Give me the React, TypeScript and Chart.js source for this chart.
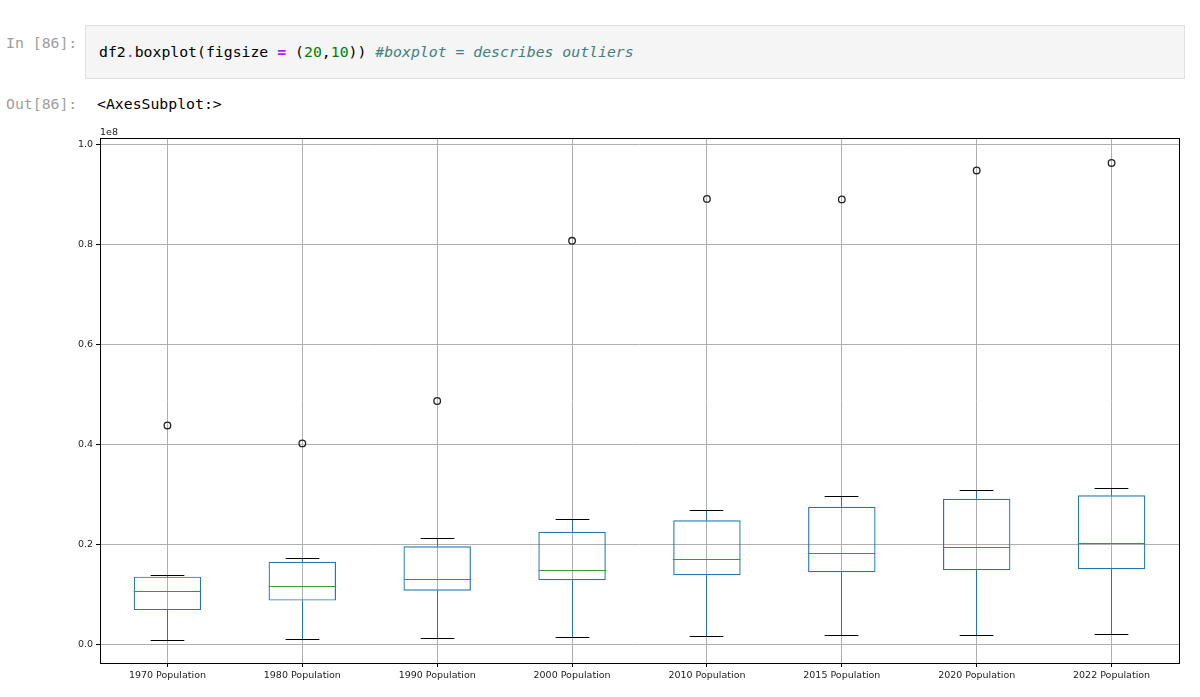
import React, { useEffect, useRef } from "react";
import { Chart, registerables } from "chart.js";

Chart.register(...registerables);

// Values in units of 1e8
const categories = [
  "1970 Population",
  "1980 Population",
  "1990 Population",
  "2000 Population",
  "2010 Population",
  "2015 Population",
  "2020 Population",
  "2022 Population",
];
const whiskerLow = [0.008, 0.010, 0.011, 0.013, 0.015, 0.018, 0.018, 0.020];
const q1 = [0.068, 0.087, 0.107, 0.128, 0.138, 0.144, 0.148, 0.150];
const median = [0.105, 0.116, 0.130, 0.148, 0.169, 0.182, 0.194, 0.202];
const q3 = [0.135, 0.165, 0.196, 0.225, 0.248, 0.275, 0.291, 0.298];
const whiskerHigh = [0.137, 0.172, 0.211, 0.250, 0.268, 0.295, 0.308, 0.312];
const outliers = [0.438, 0.402, 0.487, 0.808, 0.892, 0.891, 0.949, 0.964];
const yTicks = [0.0, 0.2, 0.4, 0.6, 0.8, 1.0];
const yMin = -0.038;
const yMax = 1.014;

const BLUE = "#1f77b4";
const GREEN = "#2ca02c";
const FONT = "'DejaVu Sans', sans-serif";

const align = (p: number) => Math.round(p - 0.5) + 0.5;

const boxPlugin = {
  id: "boxParts",
  afterDatasetsDraw(chart: any) {
    const ctx = chart.ctx;
    const x = chart.scales.x;
    const y = chart.scales.y;
    const catW = x.getPixelForValue(1) - x.getPixelForValue(0);
    const boxHalf = catW * 0.25;
    const capHalf = catW * 0.125;
    ctx.save();
    ctx.lineWidth = 1;
    categories.forEach((_, i) => {
      const cx = align(x.getPixelForValue(i));
      const yl = align(y.getPixelForValue(whiskerLow[i]));
      const y1 = y.getPixelForValue(q1[i]);
      const y3 = y.getPixelForValue(q3[i]);
      const yh = align(y.getPixelForValue(whiskerHigh[i]));
      const ym = align(y.getPixelForValue(median[i]));
      // whiskers
      ctx.strokeStyle = BLUE;
      ctx.beginPath();
      ctx.moveTo(cx, y1);
      ctx.lineTo(cx, yl);
      ctx.moveTo(cx, y3);
      ctx.lineTo(cx, yh);
      ctx.stroke();
      // caps
      ctx.strokeStyle = "#000";
      ctx.beginPath();
      ctx.moveTo(cx - capHalf, yl);
      ctx.lineTo(cx + capHalf, yl);
      ctx.moveTo(cx - capHalf, yh);
      ctx.lineTo(cx + capHalf, yh);
      ctx.stroke();
      // median
      ctx.strokeStyle = GREEN;
      ctx.beginPath();
      ctx.moveTo(cx - boxHalf, ym);
      ctx.lineTo(cx + boxHalf, ym);
      ctx.stroke();
    });
    ctx.restore();
  },
  afterDraw(chart: any) {
    const ctx = chart.ctx;
    const a = chart.chartArea;
    ctx.save();
    ctx.strokeStyle = "#000";
    ctx.lineWidth = 1;
    ctx.strokeRect(
      Math.round(a.left) + 0.5,
      Math.round(a.top) + 0.5,
      Math.round(a.right - a.left),
      Math.round(a.bottom - a.top)
    );
    ctx.fillStyle = "#222";
    ctx.font = `9.5px ${FONT}`;
    ctx.textAlign = "left";
    ctx.textBaseline = "bottom";
    ctx.fillText("1e8", a.left, a.top - 1);
    ctx.restore();
  },
};

function BoxChart() {
  const ref = useRef<HTMLCanvasElement>(null);
  useEffect(() => {
    if (!ref.current) return;
    const chart = new Chart(ref.current, {
      type: "bar",
      data: {
        labels: categories,
        datasets: [
          {
            type: "bar",
            data: categories.map((_, i) => [q1[i], q3[i]]) as any,
            backgroundColor: "rgba(0,0,0,0)",
            borderColor: BLUE,
            borderWidth: 1.2,
            borderSkipped: false,
            barPercentage: 0.5,
            categoryPercentage: 1,
          } as any,
          {
            type: "line",
            data: outliers,
            showLine: false,
            pointRadius: 3.3,
            pointBorderWidth: 1.3,
            pointBorderColor: "#222",
            pointBackgroundColor: "rgba(0,0,0,0)",
          } as any,
        ],
      },
      options: {
        animation: false,
        responsive: false,
        maintainAspectRatio: false,
        layout: { padding: { top: 18, right: 21, left: 0, bottom: 0 } },
        plugins: { legend: { display: false }, tooltip: { enabled: false } },
        scales: {
          x: {
            type: "category",
            offset: true,
            grid: {
              offset: false,
              color: "#b0b0b0",
              lineWidth: 1,
              tickColor: "#000",
              tickLength: 4,
            },
            border: { display: false },
            ticks: {
              color: "#222",
              font: { family: FONT, size: 9.5 },
              padding: 3,
              maxRotation: 0,
              autoSkip: false,
            },
            afterFit(scale: any) {
              scale.height = 34;
            },
          },
          y: {
            type: "linear",
            min: yMin,
            max: yMax,
            grid: {
              color: "#b0b0b0",
              lineWidth: 1,
              tickColor: "#000",
              tickLength: 4,
            },
            border: { display: false },
            ticks: {
              color: "#222",
              font: { family: FONT, size: 9.5 },
              padding: 3,
              callback: (v: any) => Number(v).toFixed(1),
            },
            afterBuildTicks(scale: any) {
              scale.ticks = yTicks.map((v) => ({ value: v }));
            },
            afterFit(scale: any) {
              scale.width = 100;
            },
          },
        },
      } as any,
      plugins: [boxPlugin],
    });
    return () => chart.destroy();
  }, []);
  return (
    <canvas
      ref={ref}
      width={1200}
      height={577}
      style={{ position: "absolute", left: 0, top: 120, width: 1200, height: 577 }}
    />
  );
}

const mono = "'DejaVu Sans Mono', monospace";

export default function App() {
  return (
    <div
      style={{
        position: "absolute",
        left: 0,
        top: 0,
        width: 1200,
        height: 697,
        background: "#fff",
        overflow: "hidden",
      }}
    >
      <div
        style={{
          position: "absolute",
          left: 6,
          top: 34,
          font: `14.8px ${mono}`,
          color: "#9e9e9e",
          lineHeight: "18px",
          whiteSpace: "pre",
        }}
      >
        In [86]:
      </div>
      <div
        style={{
          position: "absolute",
          left: 85,
          top: 25,
          width: 1098,
          height: 52,
          background: "#f5f5f5",
          border: "1px solid #e0e0e0",
        }}
      />
      <div
        style={{
          position: "absolute",
          left: 99,
          top: 43,
          font: `14.8px ${mono}`,
          lineHeight: "18px",
          color: "#000",
          whiteSpace: "pre",
        }}
      >
        df2
        <span style={{ color: "#AA22FF" }}>.</span>
        boxplot(figsize{" "}
        <span style={{ color: "#AA22FF", fontWeight: "bold" }}>=</span> (
        <span style={{ color: "#008000" }}>20</span>,
        <span style={{ color: "#008000" }}>10</span>)){" "}
        <span style={{ color: "#408080", fontStyle: "italic" }}>
          #boxplot = describes outliers
        </span>
      </div>
      <div
        style={{
          position: "absolute",
          left: 6,
          top: 95,
          font: `14.8px ${mono}`,
          color: "#9e9e9e",
          lineHeight: "18px",
          whiteSpace: "pre",
        }}
      >
        Out[86]:
      </div>
      <div
        style={{
          position: "absolute",
          left: 97,
          top: 95,
          font: `14.8px ${mono}`,
          color: "#000",
          lineHeight: "18px",
          whiteSpace: "pre",
        }}
      >
        {"<AxesSubplot:>"}
      </div>
      <BoxChart />
    </div>
  );
}
